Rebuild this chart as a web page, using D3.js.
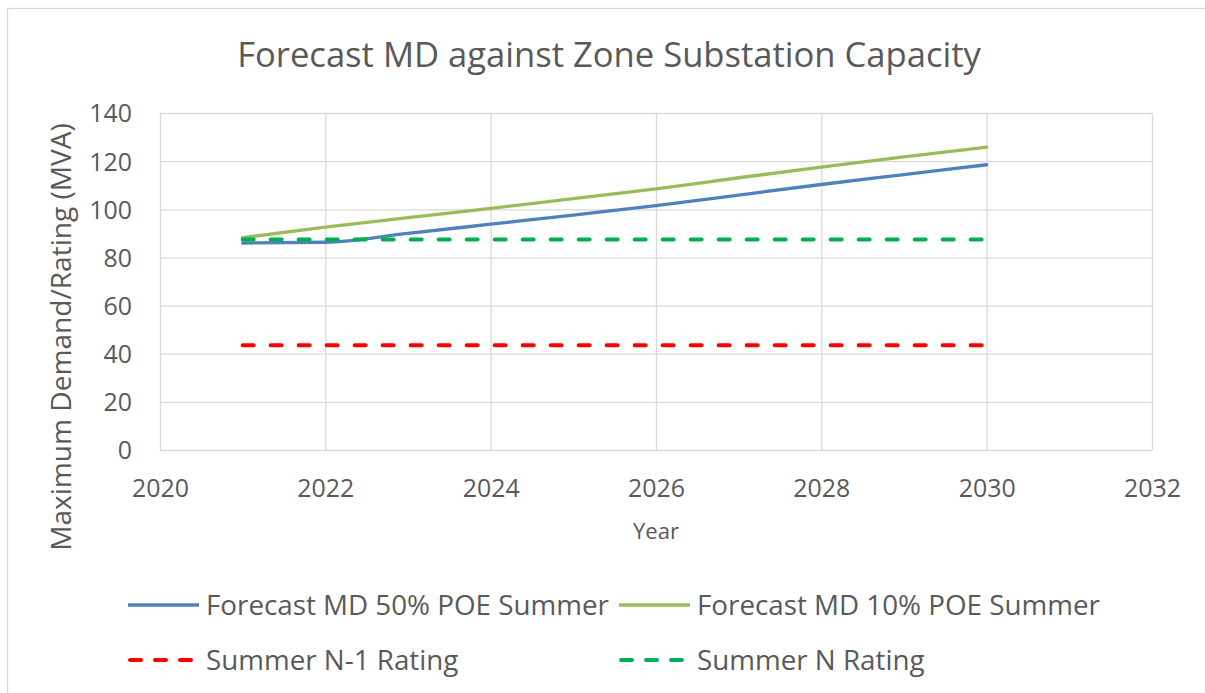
<!DOCTYPE html>
<html>
<head>
<meta charset="utf-8">
<script src="https://cdn.jsdelivr.net/npm/d3@7"></script>
<style>
html,body{margin:0;padding:0;background:#fff;}
svg{display:block;}
</style>
</head>
<body>
<svg id="chart" width="1205" height="693"></svg>
<script>
// ---- data ----
const years = [2021, 2022, 2023, 2024, 2025, 2026, 2027, 2028, 2029, 2030];
const md50 = [86.0, 86.3, 90.0, 93.8, 97.6, 101.5, 105.9, 110.3, 114.4, 118.5];
const md10 = [88.2, 92.6, 96.5, 100.4, 104.4, 108.5, 113.1, 117.5, 121.8, 125.8];
const n1Rating = [43.5, 43.5, 43.5, 43.5, 43.5, 43.5, 43.5, 43.5, 43.5, 43.5];
const nRating = [87.4, 87.4, 87.4, 87.4, 87.4, 87.4, 87.4, 87.4, 87.4, 87.4];
const xTicks = [2020, 2022, 2024, 2026, 2028, 2030, 2032];
const yTicks = [0, 20, 40, 60, 80, 100, 120, 140];
const seriesNames = ["Forecast MD 50% POE Summer", "Forecast MD 10% POE Summer", "Summer N-1 Rating", "Summer N Rating"];
const titleText = "Forecast MD against Zone Substation Capacity";
const xTitle = "Year";
const yTitle = "Maximum Demand/Rating (MVA)";

// ---- setup ----
const svg = d3.select("#chart");
const FONT = "'Open Sans', 'Noto Sans', sans-serif";
const TXT = "#595959";
const GRID = "#d9d9d9";
const L = 160, R = 1152, T = 113, B = 450;

const x = d3.scaleLinear().domain([2020, 2032]).range([L, R]);
const y = d3.scaleLinear().domain([0, 140]).range([B, T]);

function fitSize(sel, target) {
  const w = sel.node().getComputedTextLength();
  const fs = parseFloat(sel.attr("font-size"));
  const n = fs * target / w;
  sel.attr("font-size", n);
  return n;
}

// chart border
svg.append("rect").attr("x", 7.5).attr("y", 8.5).attr("width", 1300).attr("height", 800)
  .attr("fill", "#fff").attr("stroke", GRID).attr("stroke-width", 1.3);

// title
const title = svg.append("text").attr("x", 609).attr("y", 67).attr("text-anchor", "middle")
  .attr("font-family", FONT).attr("font-size", 30).attr("fill", TXT).text(titleText);
fitSize(title, 744);

// gridlines
svg.append("g").attr("transform", `translate(${L},0)`)
  .call(d3.axisLeft(y).tickValues(yTicks).tickSize(-(R - L)).tickFormat(""))
  .call(g => g.select(".domain").remove())
  .call(g => g.selectAll("line").attr("stroke", GRID).attr("stroke-width", 1.3));
svg.append("g").attr("transform", `translate(0,${B})`)
  .call(d3.axisBottom(x).tickValues(xTicks).tickSize(-(B - T)).tickFormat(""))
  .call(g => g.select(".domain").remove())
  .call(g => g.selectAll("line").attr("stroke", GRID).attr("stroke-width", 1.3));

// tick font size from reference width
const probe = svg.append("text").attr("font-family", FONT).attr("font-size", 20).text("2020");
const tickSize = fitSize(probe, 57);
probe.remove();

// axes labels
svg.append("g").attr("transform", `translate(${L},0)`)
  .call(d3.axisLeft(y).tickValues(yTicks).tickSize(0).tickPadding(28).tickFormat(d3.format("d")))
  .call(g => g.select(".domain").remove())
  .call(g => g.selectAll("text").attr("font-family", FONT).attr("font-size", tickSize).attr("fill", TXT).attr("dy", "0.36em"));
svg.append("g").attr("transform", `translate(0,${B})`)
  .call(d3.axisBottom(x).tickValues(xTicks).tickSize(0).tickFormat(d3.format("d")))
  .call(g => g.select(".domain").remove())
  .call(g => g.selectAll("text").attr("font-family", FONT).attr("font-size", tickSize).attr("fill", TXT).attr("y", 47).attr("dy", 0));

// axis titles
const xt = svg.append("text").attr("x", (L + R) / 2).attr("y", 539).attr("text-anchor", "middle")
  .attr("font-family", FONT).attr("font-size", 20).attr("fill", TXT).text(xTitle);
fitSize(xt, 46);
const yt = svg.append("text").attr("transform", "translate(70.5,337) rotate(-90)").attr("text-anchor", "middle")
  .attr("font-family", FONT).attr("font-size", 20).attr("fill", TXT).text(yTitle);
fitSize(yt, 428);

// series
const series = [
  {name: seriesNames[0], values: md50, color: "#4f81bd", dash: null, curve: true},
  {name: seriesNames[1], values: md10, color: "#9bbb59", dash: null, curve: true},
  {name: seriesNames[2], values: n1Rating, color: "#ff0000", dash: "11,17", curve: false},
  {name: seriesNames[3], values: nRating, color: "#00b050", dash: "11,17", curve: false}
];

series.forEach(s => {
  const line = d3.line().x((d, i) => x(years[i])).y(d => y(d))
    .curve(s.curve ? d3.curveMonotoneX : d3.curveLinear);
  svg.append("path").datum(s.values).attr("d", line).attr("fill", "none")
    .attr("stroke", s.color).attr("stroke-width", s.dash ? 4 : 3.3)
    .attr("stroke-dasharray", s.dash).attr("stroke-linecap", "round").attr("stroke-linejoin", "round");
});

// legend
const legPos = [
  {lx: 128, ly: 605}, {lx: 619, ly: 605},
  {lx: 128, ly: 660}, {lx: 619, ly: 660}
];
const lp = svg.append("text").attr("font-family", FONT).attr("font-size", 20).text(seriesNames[0]);
const legSize = fitSize(lp, 403);
lp.remove();
series.forEach((s, i) => {
  const p = legPos[i];
  svg.append("line").attr("x1", p.lx + (s.dash ? 2 : 0)).attr("x2", p.lx + 71).attr("y1", p.ly).attr("y2", p.ly)
    .attr("stroke", s.color).attr("stroke-width", s.dash ? 4 : 3.3)
    .attr("stroke-dasharray", s.dash ? "11,14" : null).attr("stroke-linecap", s.dash ? "round" : "butt");
  svg.append("text").attr("x", p.lx + 78).attr("y", p.ly + 10)
    .attr("font-family", FONT).attr("font-size", legSize).attr("fill", TXT).text(s.name);
});
</script>
</body>
</html>
